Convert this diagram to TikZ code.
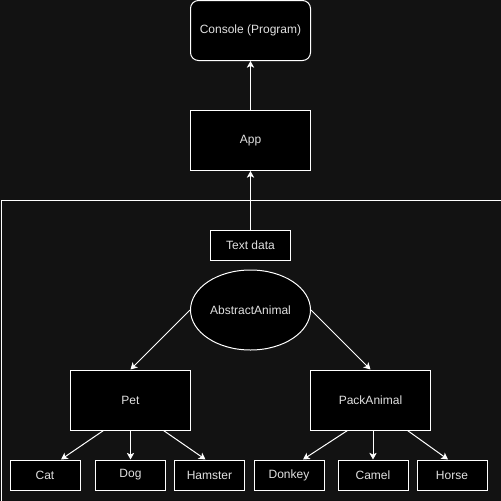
\documentclass[tikz,border=0pt]{standalone}
\usepackage{fontspec}
\setmainfont{Liberation Sans}
\usetikzlibrary{arrows.meta,calc,shapes.geometric}
\definecolor{bgc}{RGB}{18,18,18}
\definecolor{txt}{RGB}{225,225,225}
\begin{document}
\begin{tikzpicture}[x=0.75pt,y=-0.75pt,
  box/.style={draw=white,fill=black,line width=0.75pt,text=txt,font=\fontsize{9}{11}\selectfont,inner sep=0pt},
  big/.style={box,minimum width=90pt,minimum height=45pt},
  small/.style={box,minimum width=52.5pt,minimum height=22.5pt},
  arr/.style={draw=white,line width=0.75pt,-{Stealth[length=5pt,width=5.5pt,inset=1.3pt]}}]
\fill[bgc] (0,0) rectangle (501,501);
\useasboundingbox (0,0) rectangle (501,501);
\draw[white,line width=0.75pt] (1,501) -- (1,200.5) -- (501,200.5);
\node[big,rounded corners=6pt] (console) at (250.5,30.5) {Console (Program)};
\node[big] (app) at (250.5,140.5) {App};
\node[box,minimum width=60pt,minimum height=22.5pt] (text) at (250.5,245) {Text data};
\node[box,ellipse,minimum width=90pt,minimum height=60pt] (abs) at (250.5,310) {AbstractAnimal};
\node[big] (pet) at (130.5,400) {Pet};
\node[big] (pack) at (370.5,400) {PackAnimal};
\node[small] (cat) at (45,475) {Cat};
\node[small] (dog) at (130.5,475) {Dog};
\node[small] (ham) at (209.5,475) {Hamster};
\node[small] (don) at (289,475) {Donkey};
\node[small] (cam) at (373,475) {Camel};
\node[small] (hor) at (452,475) {Horse};
\draw[arr] (app.north) -- (console.south);
\draw[arr] (text.north) -- (app.south);
\draw[arr] (abs.west) -- (pet.north);
\draw[arr] (abs.east) -- (pack.north);
\draw[arr] ($(pet.south)+(-27,0)$) -- ($(cat.north)+(16,0)$);
\draw[arr] (pet.south) -- (dog.north -| pet.south);
\draw[arr] ($(pet.south)+(33,0)$) -- ($(ham.north)+(-4,0)$);
\draw[arr] ($(pack.south)+(-23,0)$) -- ($(don.north)+(14,0)$);
\draw[arr] (pack.south -| cam.north) -- (cam.north);
\draw[arr] ($(pack.south)+(37,0)$) -- ($(hor.north)+(-4,0)$);
\end{tikzpicture}
\end{document}
